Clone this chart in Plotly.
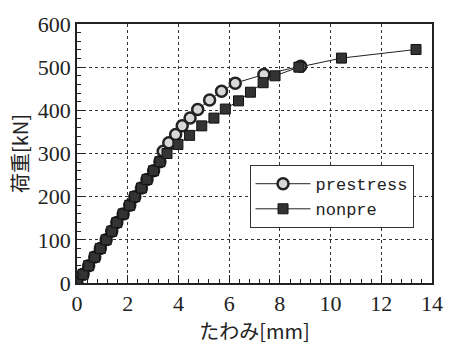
import plotly.graph_objects as go

# Load–deflection data
pre_x = [0, 0.24, 0.46, 0.70, 0.92, 1.15, 1.37, 1.57, 1.82, 2.08, 2.28, 2.54, 2.76, 3.02, 3.27,
         3.40, 3.62, 3.89, 4.15, 4.46, 4.76, 5.23, 5.70, 6.24, 7.37, 8.82]
pre_y = [0, 20, 40, 60, 80, 100, 120, 140, 160, 180, 200, 220, 240, 260, 281,
         305, 325, 344, 364, 382, 402, 424, 444, 463, 483, 502]

non_x = [0, 0.24, 0.46, 0.70, 0.92, 1.15, 1.37, 1.57, 1.82, 2.08, 2.28, 2.54, 2.76, 3.02, 3.27,
         3.55, 3.98, 4.44, 4.92, 5.40, 5.85, 6.37, 6.84, 7.34, 7.81, 8.75, 10.43, 13.37]
non_y = [0, 20, 40, 60, 80, 100, 120, 140, 160, 180, 200, 220, 240, 260, 281,
         300, 321, 342, 364, 382, 403, 422, 442, 464, 480, 500, 521, 541]

x_ticks = [0, 2, 4, 6, 8, 10, 12, 14]
y_ticks = [0, 100, 200, 300, 400, 500, 600]

fig = go.Figure()
fig.add_trace(go.Scatter(
    x=pre_x, y=pre_y, name="prestress", mode="lines+markers",
    line=dict(color="#222", width=1),
    marker=dict(symbol="circle", size=11, color="#d8d8d8",
                line=dict(color="#222", width=2.5)),
))
fig.add_trace(go.Scatter(
    x=non_x, y=non_y, name="nonpre", mode="lines+markers",
    line=dict(color="#222", width=1),
    marker=dict(symbol="square", size=10, color="#333",
                line=dict(color="#111", width=1)),
))

axis_common = dict(
    showline=True, linecolor="#222", linewidth=1.5, mirror=True,
    ticks="inside", ticklen=8, tickcolor="#222",
    showgrid=True, gridcolor="#333", griddash="dot", gridwidth=1,
    zeroline=False,
    tickfont=dict(family="Liberation Serif, serif", size=22, color="#222"),
)

fig.update_xaxes(
    range=[0, 14], tickvals=x_ticks,
    minor=dict(dtick=0.4, tick0=0, ticks="inside", ticklen=4, tickcolor="#222", showgrid=False),
    title=dict(text="たわみ[mm]", standoff=4,
               font=dict(family="Noto Sans CJK JP", size=20, color="#222")),
    **axis_common,
)
fig.update_yaxes(
    range=[0, 600], tickvals=y_ticks,
    minor=dict(dtick=20, tick0=0, ticks="inside", ticklen=4, tickcolor="#222", showgrid=False),
    title=dict(text="荷重[kN]", standoff=4,
               font=dict(family="Noto Sans CJK JP", size=20, color="#222")),
    **axis_common,
)

fig.update_layout(
    width=455, height=346,
    margin=dict(l=77, r=16, t=15, b=62),
    paper_bgcolor="white", plot_bgcolor="white",
    legend=dict(
        x=0.486, y=0.455, xanchor="left", yanchor="top",
        traceorder="normal",
        bgcolor="white", bordercolor="#333", borderwidth=1,
        itemwidth=55, tracegroupgap=0,
        font=dict(family="Liberation Mono, monospace", size=17, color="#222"),
    ),
)

fig.write_html("out.html")
